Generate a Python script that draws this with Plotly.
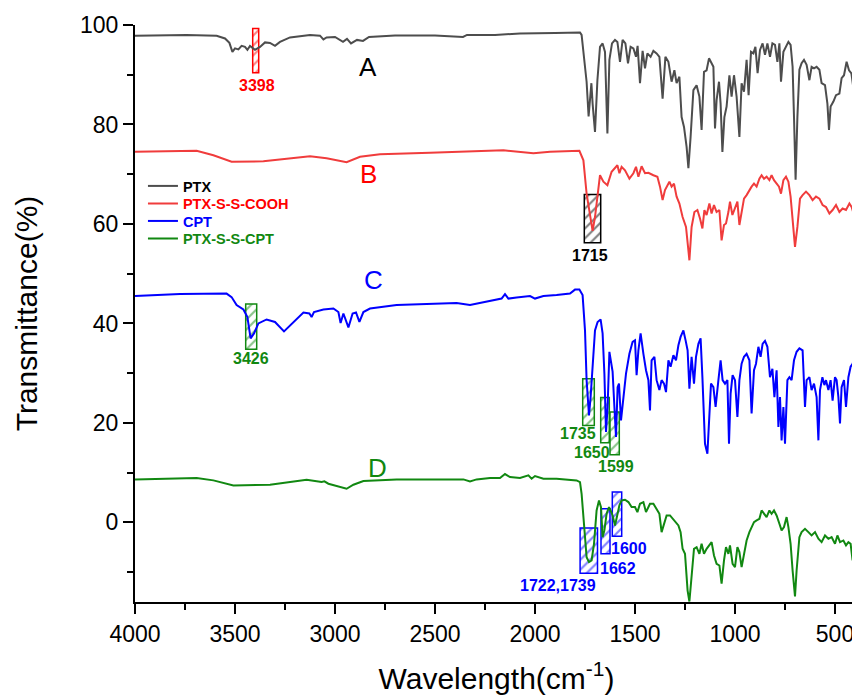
import plotly.graph_objects as go

# ---------------- data ----------------
ptx_wn = [4000, 3742, 3592, 3550, 3528, 3513, 3500, 3483, 3467, 3450, 3438, 3425, 3400, 3375, 3350,
          3325, 3300, 3275, 3225, 3125, 3075, 3058, 3042, 3000, 2960, 2940, 2920, 2890, 2860, 2830,
          2700, 2500, 2360, 2340, 2200, 2075, 1900, 1775,
          1767, 1755, 1742, 1732, 1725, 1718, 1712, 1700, 1688, 1675, 1662, 1650, 1638, 1628, 1615,
          1600, 1588, 1575, 1562, 1548, 1535, 1522, 1508, 1495, 1487, 1475, 1462, 1450, 1438, 1422,
          1408, 1392, 1378, 1362, 1348, 1333, 1317, 1303, 1292, 1278, 1267, 1255, 1242, 1233, 1222,
          1208, 1192, 1178, 1167, 1155, 1142, 1130, 1117, 1108, 1100, 1092, 1080, 1072, 1063, 1053,
          1042, 1028, 1017, 1005, 992, 978, 967, 955, 942, 932, 920, 908, 898, 887, 875, 862, 850,
          838, 825, 813, 800, 788, 778, 770, 758, 747, 733, 722, 712, 705, 697, 688, 678, 667, 655,
          642, 628, 617, 605, 592, 578, 567, 550, 538, 530, 522, 508, 495, 478, 467, 455, 442, 430,
          418, 408, 398, 388]
ptx_t = [97.85, 98.0, 97.85, 97.3, 96.4, 94.6, 95.3, 95.1, 95.8, 95.6, 95.0, 95.8, 95.0, 95.6, 96.5,
         96.4, 95.8, 96.6, 97.5, 98.0, 97.85, 97.1, 97.5, 97.6, 96.6, 97.2, 96.3, 97.0, 96.8, 97.6,
         97.9, 97.9, 97.6, 98.0, 98.0, 98.3, 98.4, 98.5,
         98.0, 93.0, 88.6, 81.6, 84.9, 88.3, 84.2, 78.5, 88.9, 95.6, 96.3, 94.6, 78.2, 93.0, 96.3,
         97.0, 96.6, 92.6, 97.0, 96.3, 92.3, 95.6, 95.3, 93.6, 95.8, 88.3, 94.8, 91.3, 94.3, 93.6,
         94.8, 94.3, 93.6, 85.2, 93.6, 92.6, 88.6, 90.9, 88.3, 89.6, 81.5, 79.5, 75.5, 71.2, 77.5,
         86.9, 87.9, 85.6, 78.9, 90.6, 90.9, 93.3, 92.3, 91.6, 79.2, 84.9, 88.6, 84.2, 74.5, 81.5,
         83.6, 89.9, 85.6, 89.9, 85.6, 77.5, 88.3, 86.6, 93.0, 85.9, 94.6, 94.3, 95.6, 90.3, 95.0, 96.3, 94.0,
         96.3, 93.6, 96.3, 96.0, 92.6, 96.3, 88.6, 94.6, 95.6, 96.6, 96.0, 91.6, 81.5, 68.9, 81.5, 91.0, 92.3, 93.0,
         92.0, 88.9, 91.6, 91.3, 91.6, 91.0, 88.3, 87.9, 84.2, 78.9, 83.6, 84.6, 85.9, 86.2, 89.3, 89.9, 92.6, 90.9,
         90.3, 87.3, 89.6, 88.3]

cooh_wn = [4000, 3692, 3608, 3517, 3358, 3125, 3042, 2942, 2875, 2775, 2525, 2158, 2008, 1925, 1778,
           1758, 1742, 1725, 1712, 1700, 1688, 1675, 1658, 1638, 1617, 1600, 1588, 1578, 1567, 1550,
           1528, 1508, 1495, 1483, 1467, 1450, 1433, 1408, 1388, 1375, 1362, 1350, 1328, 1317, 1305,
           1292, 1278, 1262, 1245, 1228, 1217, 1203, 1188, 1175, 1163, 1153, 1142, 1128, 1117, 1105,
           1092, 1078, 1067, 1055, 1045, 1033, 1025, 1013, 1000, 988, 978, 967, 955, 942, 928, 917,
           905, 892, 878, 867, 855, 842, 828, 817, 805, 792, 780, 770, 758, 745, 733, 722, 712, 700,
           688, 675, 662, 645, 628, 612, 595, 578, 562, 545, 528, 512, 495, 478, 462, 445, 428, 417,
           405, 392, 388]
cooh_t = [74.5, 74.7, 73.8, 72.5, 72.6, 73.6, 73.2, 72.4, 73.5, 74.0, 74.3, 74.8, 74.2, 74.5, 74.7,
          72.8, 66.1, 61.4, 58.6, 61.4, 66.1, 69.8, 68.5, 67.8, 70.5, 71.2, 71.8, 70.2, 71.5, 70.8,
          69.1, 70.2, 71.5, 69.5, 71.6, 70.2, 70.3, 69.8, 69.5, 67.5, 64.8, 66.8, 68.5, 67.5, 68.1,
          65.5, 64.1, 61.4, 59.4, 52.7, 59.4, 62.4, 62.8, 61.1, 59.1, 62.8, 61.8, 64.1, 62.1, 63.8,
          62.4, 62.8, 56.7, 59.8, 60.1, 62.4, 64.5, 61.8, 63.4, 64.5, 59.8, 62.8, 65.1, 65.8, 66.8, 67.5,
          68.1, 67.5, 69.1, 69.8, 69.1, 69.5, 68.8, 69.8, 68.8, 68.1, 67.5, 66.1, 68.8, 69.5, 68.5, 65.5, 60.1, 55.4,
          59.4, 65.1, 65.8, 66.5, 65.8, 64.8, 65.5, 65.1, 63.8, 63.4, 62.1, 62.8, 63.8, 62.4, 63.1, 62.8, 64.1, 63.4,
          61.8, 62.8, 62.4]

cpt_wn = [4000, 3775, 3542, 3517, 3492, 3458, 3438, 3422, 3405, 3383, 3342, 3300, 3255, 3208, 3158,
          3128, 3117, 3105, 3058, 3008, 2983, 2972, 2958, 2933, 2912, 2895, 2878, 2858, 2825, 2692,
          2525, 2392, 2325, 2258, 2192, 2167, 2150, 2133, 2092, 2025, 2000, 1958, 1892, 1825, 1800,
          1778, 1762, 1750, 1742, 1730, 1722, 1712, 1700, 1687, 1672, 1662, 1653, 1645, 1637, 1628,
          1620, 1612, 1603, 1595, 1587, 1580, 1570, 1558, 1545, 1528, 1512, 1500, 1492, 1483, 1472,
          1458, 1445, 1433, 1425, 1417, 1403, 1392, 1378, 1367, 1355, 1345, 1333, 1322, 1308, 1295,
          1283, 1272, 1258, 1247, 1237, 1228, 1217, 1205, 1195, 1183, 1172, 1163, 1150, 1138, 1128,
          1120, 1108, 1097, 1083, 1072, 1062, 1050, 1038, 1030, 1022, 1012, 1000, 988, 978, 967, 955,
          942, 928, 917, 905, 895, 883, 872, 862, 850, 838, 825, 813, 803, 792, 783, 775, 767, 758,
          750, 738, 728, 717, 705, 692, 678, 662, 650, 642, 628, 617, 605, 592, 583, 575, 563, 553,
          545, 533, 522, 512, 500, 492, 483, 475, 467, 455, 445, 433, 422, 412, 400, 392, 388]
cpt_t = [45.5, 45.9, 46.0, 45.3, 43.7, 42.8, 41.3, 37.0, 38.0, 40.0, 40.8, 40.3, 38.4, 40.3, 42.2,
         42.0, 41.3, 42.3, 42.8, 43.0, 42.3, 40.1, 42.0, 39.2, 42.0, 42.2, 40.3, 42.3, 43.0, 43.7,
         43.9, 44.1, 43.7, 44.3, 44.8, 45.0, 45.9, 45.0, 45.2, 45.5, 45.0, 45.5, 45.7, 46.0, 46.8,
         46.8, 45.7, 38.6, 28.6, 21.5, 25.2, 31.9, 38.6, 40.3, 40.8, 38.0, 29.9, 18.2, 23.2, 34.3,
         31.9, 30.3, 23.2, 17.2, 27.2, 27.9, 20.5, 24.5, 29.9, 33.9, 36.3, 36.6, 29.6, 34.6, 38.0,
         33.9, 30.6, 28.6, 22.5, 32.6, 33.3, 28.6, 26.6, 28.6, 27.9, 26.2, 32.6, 31.3, 33.6, 32.6,
         35.6, 37.3, 38.6, 36.6, 34.6, 26.9, 33.3, 27.9, 33.3, 35.9, 37.0, 29.2, 15.8, 13.8, 21.9,
         27.9, 27.2, 23.2, 28.6, 32.6, 28.6, 27.9, 28.6, 15.8, 25.9, 29.6, 28.6, 21.2, 28.6, 31.9, 33.3,
         33.9, 32.6, 21.9, 30.6, 31.9, 35.3, 33.3, 35.9, 36.5, 35.3, 29.2, 30.9, 25.2, 30.6, 19.2, 25.2, 16.5, 23.2,
         15.8, 28.6, 29.2, 28.6, 32.6, 34.3, 35.0, 34.6, 23.2, 28.6, 29.2, 26.6, 27.9, 25.2, 16.5, 26.6, 29.2, 27.6,
         28.6, 26.6, 28.6, 24.5, 29.2, 28.6, 25.2, 19.9, 27.2, 28.6, 23.2, 29.2, 31.3, 31.9, 33.6, 34.6, 35.0]

conj_wn = [4000, 3692, 3608, 3508, 3325, 3142, 3067, 3053, 3033, 2983, 2942, 2908, 2858, 2692, 2358,
           2325, 2292, 2225, 2175, 2150, 2125, 2075, 2033, 2017, 2000, 1958, 1892, 1792, 1775, 1767,
           1755, 1742, 1730, 1717, 1705, 1692, 1680, 1670, 1662, 1653, 1642, 1630, 1622, 1612, 1600,
           1588, 1578, 1567, 1550, 1533, 1517, 1500, 1488, 1475, 1458, 1445, 1425, 1408, 1392, 1378,
           1367, 1355, 1342, 1325, 1312, 1300, 1283, 1272, 1262, 1250, 1237, 1228, 1217, 1205, 1192,
           1178, 1167, 1155, 1142, 1128, 1117, 1105, 1092, 1078, 1067, 1055, 1045, 1033, 1025, 1012,
           1000, 988, 978, 967, 955, 942, 928, 917, 905, 892, 878, 867, 855, 842, 828, 817, 805, 792,
           778, 767, 755, 742, 733, 722, 712, 700, 692, 678, 667, 650, 633, 617, 600, 583, 567, 550,
           533, 517, 500, 488, 475, 458, 445, 433, 422, 412, 405, 392, 388]
conj_t = [8.65, 8.92, 8.45, 7.44, 7.58, 8.58, 8.11, 8.25, 7.78, 7.24, 6.77, 7.58, 8.32, 8.65, 8.65,
          8.25, 8.65, 8.92, 8.92, 9.72, 9.12, 8.92, 9.46, 8.79, 9.32, 8.79, 8.78, 8.45, 8.11, 5.76,
          -0.94, -6.98, -7.99, -7.65, -4.30, 2.41, 4.42, 3.08, -2.96, -1.61, 1.74, 3.08, 2.41, 1.40, -0.61,
          1.40, 3.42, 4.42, 4.56, 4.09, 3.08, 3.08, 2.07, 3.75, 4.09, 2.07, 3.75, 3.75, 2.74, 1.74,
          -1.95, -0.27, 1.40, 1.40, 0.73, 0.06, -0.61, -1.95, -5.30, -6.31, -13.7, -15.9, -10.3, -5.30, -4.97,
          -6.31, -4.30, -6.31, -5.30, -4.63, -3.96, -6.65, -8.32, -8.66, -12.3, -7.65, -4.97, -6.31, -4.63, -8.32,
          -8.99, -4.97, -5.97, -8.99, -6.31, -3.63, -1.95, -0.94, 0.06, 0.40, 0.73, 2.41, 1.74, 1.07, 2.41, 1.74, 2.41, 1.40,
          -0.27, -1.61, -0.94, 1.07, -0.94, -4.30, -9.66, -14.9, -9.66, -2.96, -1.95, -1.28, -1.95, -2.62, -1.95, -3.29, -3.96, -2.62,
          -3.29, -2.96, -4.30, -2.62, -3.96, -3.63, -4.63, -3.96, -4.30, -7.65, -4.63, -5.30, -4.83]

series_names = ["PTX", "PTX-S-S-COOH", "CPT", "PTX-S-S-CPT"]
series_colors = ["#4d4d4d", "#f03c3c", "#0000ff", "#118811"]
legend_text_colors = ["#000000", "#ff0000", "#0000ff", "#118811"]

curve_letters = ["A", "B", "C", "D"]
letter_x = [2835, 2835, 2810, 2790]
letter_y = [91.5, 70.0, 48.7, 10.9]
letter_colors = ["#000000", "#ff0000", "#0000ff", "#118811"]

# peak markers: (label, centre wn, width wn, y0, y1, color, label x, label y, anchor)
peak_marks = [
    ("3398", 3396.5, 30, 90.4, 99.3, "#ff0000", 3390, 87.8, "center"),
    ("1715", 1712.5, 82, 56.2, 65.9, "#000000", 1725, 53.7, "center"),
    ("3426", 3419, 55, 34.8, 43.9, "#118811", 3420, 33.0, "center"),
    ("1735", 1732.5, 58, 19.5, 28.9, "#118811", 1786, 17.85, "center"),
    ("1650", 1650, 43, 16.0, 25.1, "#118811", 1717, 14.1, "center"),
    ("1599", 1601.75, 46.5, 13.6, 22.2, "#118811", 1596, 11.3, "center"),
    ("1722,1739", 1731, 87, -10.2, -1.1, "#0000ff", 1684, -12.6, "right"),
    ("1662", 1647.5, 45, -6.3, 2.75, "#0000ff", 1586, -9.3, "center"),
    ("1600", 1590, 47, -2.8, 6.1, "#0000ff", 1531, -5.3, "center"),
]

x_ticks = [4000, 3500, 3000, 2500, 2000, 1500, 1000, 500]
y_ticks = [0, 20, 40, 60, 80, 100]

FONT = "Liberation Sans, Arial, sans-serif"

# page body has an 8px margin; the figure is sized to fill the rest of the window
fig = go.Figure()

# hatched marker boxes
for lab, c, w, y0, y1, col, lx, ly, anc in peak_marks:
    fig.add_trace(go.Bar(
        x=[c], y=[y1 - y0], base=[y0], width=[w], showlegend=False, hoverinfo="skip",
        marker=dict(color="rgba(255,255,255,0)", line=dict(color=col, width=1.5),
                    pattern=dict(shape="/", fgcolor=col, bgcolor="rgba(255,255,255,0)",
                                 size=7, solidity=0.3)),
    ))

legend_ids = ["legend", "legend2", "legend3", "legend4"]
legend_rows = [0.721, 0.6906, 0.6603, 0.630]

series = [(ptx_wn, ptx_t), (cooh_wn, cooh_t), (cpt_wn, cpt_t), (conj_wn, conj_t)]
for (wn, t), name, col, tcol, lid in zip(series, series_names, series_colors, legend_text_colors, legend_ids):
    fig.add_trace(go.Scatter(
        x=wn, y=t, mode="lines", line=dict(color=col, width=2),
        name=f"<b><span style='color:{tcol}'>{name}</span></b>", legend=lid,
    ))

annotations = []
for letter, lx, ly, col in zip(curve_letters, letter_x, letter_y, letter_colors):
    annotations.append(dict(x=lx, y=ly, xref="x", yref="y", text=letter, showarrow=False,
                            font=dict(family=FONT, size=26, color=col)))
for lab, c, w, y0, y1, col, lx, ly, anc in peak_marks:
    annotations.append(dict(x=lx, y=ly, xref="x", yref="y", text=f"<b>{lab}</b>", showarrow=False,
                            xanchor=anc, font=dict(family=FONT, size=16, color=col)))

legend_layout = {}
for lid, ry in zip(legend_ids, legend_rows):
    legend_layout[lid] = dict(x=0.011, y=ry, xanchor="left", yanchor="middle",
                              bgcolor="rgba(0,0,0,0)", borderwidth=0,
                              font=dict(family=FONT, size=14.5))

fig.update_layout(
    width=852, height=689,
    margin=dict(l=127, r=2, t=17, b=95, autoexpand=False),
    paper_bgcolor="white", plot_bgcolor="white",
    barmode="overlay",
    font=dict(family=FONT, color="black"),
    showlegend=True,
    annotations=annotations,
    **legend_layout,
)

fig.update_xaxes(
    range=[4000, 385], autorange=False, automargin=False,
    tickmode="array", tickvals=x_ticks, ticktext=[str(v) for v in x_ticks],
    ticks="outside", ticklen=10, tickwidth=2, tickcolor="black",
    minor=dict(dtick=250, tick0=0, ticks="outside", ticklen=6, tickwidth=2, tickcolor="black"),
    showline=True, linecolor="black", linewidth=2, showgrid=False, zeroline=False,
    tickfont=dict(family=FONT, size=23, color="black"),
    title=dict(text="Wavelength(cm<sup>-1</sup>)", font=dict(family=FONT, size=30, color="black"), standoff=22),
)
fig.update_yaxes(
    range=[-16, 100], autorange=False, automargin=False,
    tickmode="array", tickvals=y_ticks, ticktext=[str(v) for v in y_ticks],
    ticks="outside", ticklen=10, tickwidth=2, tickcolor="black",
    minor=dict(dtick=10, tick0=0, ticks="outside", ticklen=6, tickwidth=2, tickcolor="black"),
    showline=True, linecolor="black", linewidth=2, showgrid=False, zeroline=False,
    tickfont=dict(family=FONT, size=23, color="black"),
    title=dict(text="Transmittance(%)", font=dict(family=FONT, size=30, color="black"), standoff=34),
)

fig.write_html("out.html")
